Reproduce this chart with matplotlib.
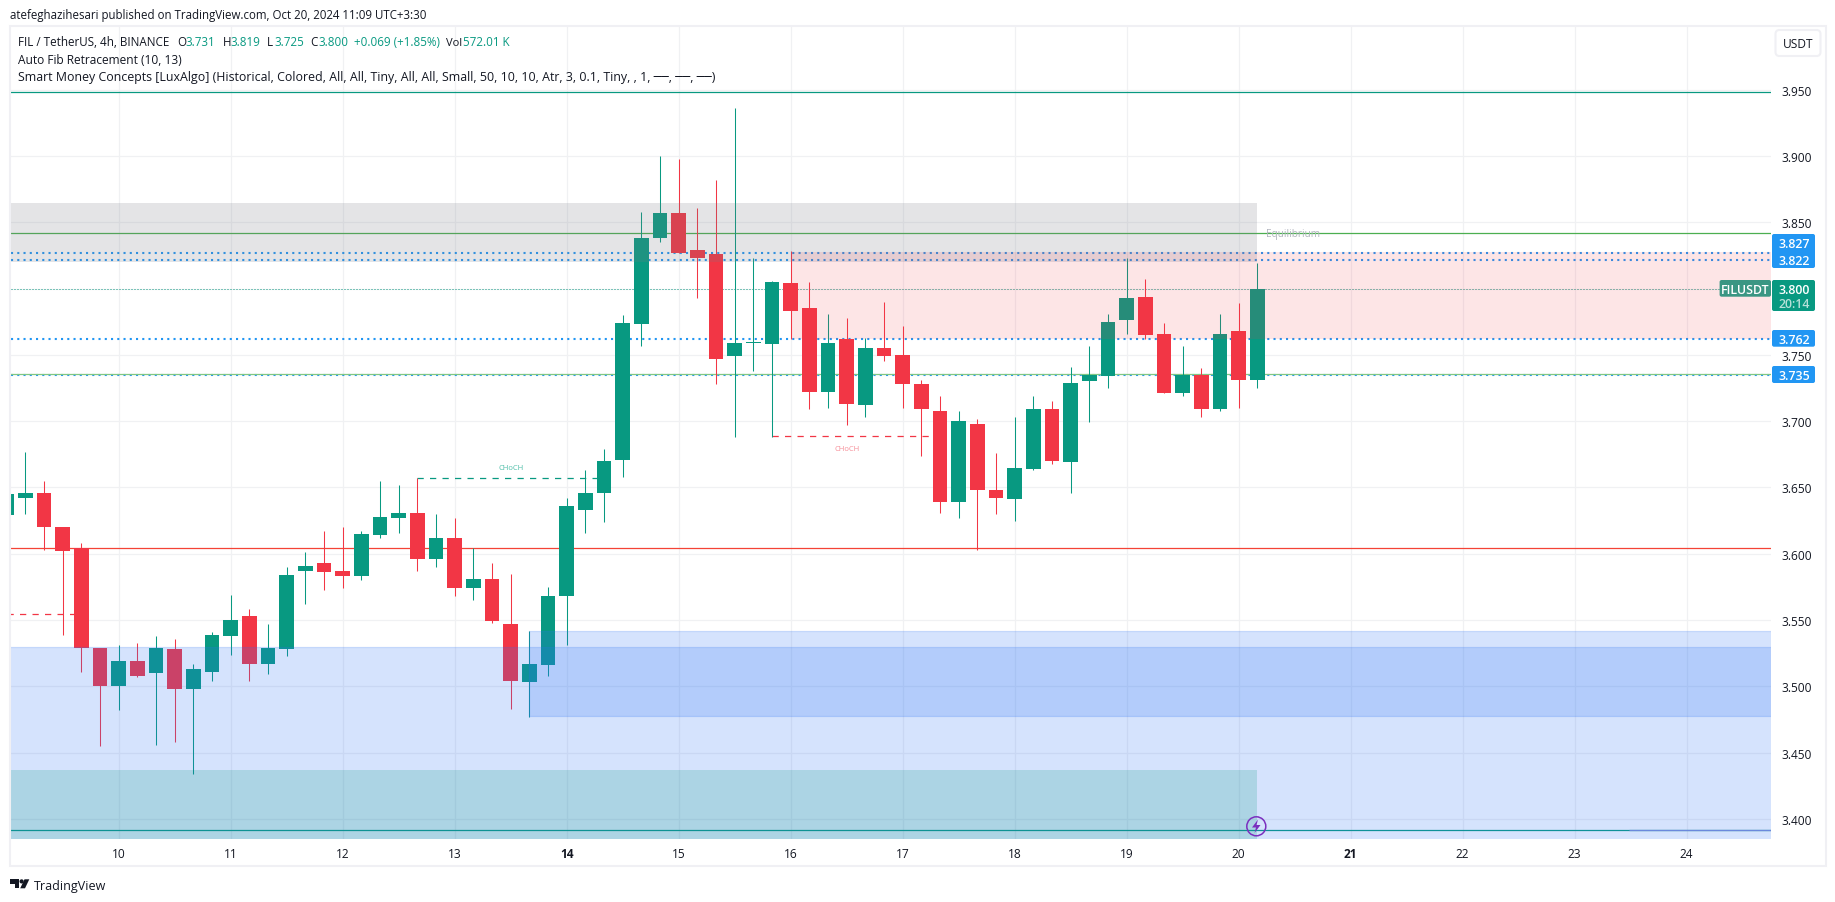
import matplotlib

matplotlib.use("Agg")
import matplotlib.pyplot as plt
import numpy as np
from matplotlib.patches import Circle, FancyBboxPatch, Polygon, Rectangle

plt.rcParams["font.family"] = ["Open Sans", "DejaVu Sans"]

GREEN = "#089981"
RED = "#F23645"
BLUE = "#2D73F5"
TAG_BLUE = "#2196F3"
INK = "#131722"
GRID = "#F0F1F3"
FRAME = "#F0F0F4"

# 4h bars, first one is cut off by the left edge of the pane
first_bar = -6
opens = [
    3.629, 3.642, 3.646, 3.620, 3.604, 3.529, 3.500, 3.519, 3.510, 3.528,
    3.498, 3.511, 3.538, 3.553, 3.517, 3.528, 3.587, 3.593, 3.587, 3.583,
    3.614, 3.627, 3.631, 3.596, 3.612, 3.574, 3.581, 3.547, 3.503, 3.516,
    3.568, 3.633, 3.646, 3.671, 3.773, 3.838, 3.857, 3.829, 3.826, 3.749,
    3.759, 3.758, 3.804, 3.785, 3.722, 3.762, 3.712, 3.755, 3.750, 3.728,
    3.708, 3.639, 3.698, 3.648, 3.641, 3.664, 3.709, 3.669, 3.730, 3.734,
    3.776, 3.794, 3.766, 3.721, 3.735, 3.709, 3.768, 3.731,
]
highs = [
    3.645, 3.677, 3.655, 3.620, 3.608, 3.529, 3.531, 3.533, 3.538, 3.536,
    3.517, 3.541, 3.569, 3.558, 3.547, 3.590, 3.601, 3.617, 3.620, 3.617,
    3.655, 3.652, 3.657, 3.630, 3.627, 3.604, 3.593, 3.585, 3.542, 3.575,
    3.642, 3.663, 3.679, 3.780, 3.858, 3.900, 3.898, 3.861, 3.882, 3.936,
    3.823, 3.806, 3.828, 3.805, 3.781, 3.778, 3.763, 3.790, 3.772, 3.731,
    3.719, 3.708, 3.702, 3.676, 3.703, 3.719, 3.715, 3.741, 3.757, 3.781,
    3.823, 3.807, 3.774, 3.757, 3.740, 3.781, 3.789, 3.819,
]
lows = [
    3.629, 3.630, 3.603, 3.539, 3.511, 3.455, 3.482, 3.507, 3.456, 3.458,
    3.434, 3.504, 3.524, 3.504, 3.509, 3.523, 3.562, 3.573, 3.574, 3.580,
    3.612, 3.616, 3.587, 3.590, 3.568, 3.565, 3.548, 3.483, 3.477, 3.508,
    3.531, 3.616, 3.624, 3.658, 3.757, 3.835, 3.827, 3.793, 3.728, 3.688,
    3.738, 3.688, 3.762, 3.709, 3.710, 3.697, 3.703, 3.745, 3.710, 3.674,
    3.631, 3.627, 3.603, 3.630, 3.625, 3.663, 3.668, 3.646, 3.699, 3.725,
    3.766, 3.762, 3.721, 3.719, 3.703, 3.708, 3.710, 3.725,
]
closes = [
    3.645, 3.646, 3.620, 3.602, 3.529, 3.500, 3.519, 3.508, 3.529, 3.498,
    3.513, 3.539, 3.550, 3.517, 3.529, 3.584, 3.591, 3.586, 3.583, 3.615,
    3.628, 3.631, 3.596, 3.612, 3.574, 3.581, 3.549, 3.504, 3.517, 3.568,
    3.636, 3.646, 3.670, 3.774, 3.838, 3.857, 3.827, 3.823, 3.747, 3.759,
    3.760, 3.805, 3.783, 3.722, 3.759, 3.713, 3.755, 3.749, 3.728, 3.709,
    3.639, 3.700, 3.648, 3.642, 3.665, 3.709, 3.670, 3.729, 3.735, 3.775,
    3.793, 3.765, 3.721, 3.735, 3.709, 3.766, 3.731, 3.800,
]

day_labels = ["10", "11", "12", "13", "14", "15", "16", "17", "18", "19", "20", "21", "22", "23", "24"]
bold_days = ["14", "21"]
bars_per_day = 6
price_ticks = [3.40, 3.45, 3.50, 3.55, 3.60, 3.65, 3.70, 3.75, 3.80, 3.85, 3.90, 3.95]

# levels from the indicators
top_line = 3.9484
equilibrium = 3.8419
low_line = 3.6043
bottom_line = 3.3916
fib_lines = [3.7357]
alert_lines = [3.8271, 3.8218, 3.7622, 3.7345]
last_price = 3.800

# zones: (bottom, top)
premium_zone = (3.8198, 3.8648)
supply_zone = (3.7622, 3.8278)
demand_wide = (3.37, 3.5297)
demand_block = (3.4774, 3.5420)
discount_zone = (3.37, 3.4371)
zone_end_bar = 61
demand_block_bar = 22
supply_bar = 36

# (start bar, end bar, level)
choch_up = (16, 26, 3.6571)
choch_down = (35, 44, 3.6888)
choch_old = (-6, -2, 3.5548)

bar_x = first_bar + np.arange(len(opens))
day_x = np.arange(len(day_labels)) * bars_per_day

fig = plt.figure(figsize=(18.35, 9.03), dpi=100, facecolor="white")


def px_rect(left, top, right, bottom):
    return [left / 1835, 1 - bottom / 903, (right - left) / 1835, (bottom - top) / 903]


ax = fig.add_axes(px_rect(10.5, 27.5, 1771, 839.7))
ax.set_xlim(-5.796, 88.517)
ax.set_ylim(3.38512, 3.99763)
for side in ax.spines.values():
    side.set_visible(False)

ax.set_xticks(day_x)
ax.set_xticklabels(day_labels, fontsize=8.6, color=INK)
for label in ax.get_xticklabels():
    if label.get_text() in bold_days:
        label.set_fontweight("bold")
ax.set_yticks(price_ticks)
ax.set_yticklabels(["%.3f" % p for p in price_ticks], fontsize=8.6, color=INK)
ax.yaxis.tick_right()
ax.tick_params(axis="both", length=0)
ax.tick_params(axis="y", pad=7.5)
ax.tick_params(axis="x", pad=6)
ax.grid(True, color=GRID, linewidth=0.9, zorder=1)
ax.set_axisbelow(True)

# indicator lines sit under the candles
right_edge = ax.get_xlim()[1]
left_edge = ax.get_xlim()[0]
ax.axhline(top_line, color=GREEN, linewidth=0.9, zorder=2)
ax.axhline(equilibrium, color="#4CAF50", linewidth=0.9, zorder=2)
ax.axhline(low_line, color="#F44336", linewidth=0.9, zorder=2)
ax.axhline(bottom_line, color=GREEN, linewidth=0.9, zorder=2)
ax.hlines(bottom_line, 80.9, right_edge, color="#7B8FD6", linewidth=0.9, zorder=2.1)
for level in alert_lines:
    ax.axhline(level, color=TAG_BLUE, linewidth=1.5, linestyle=(0, (1, 2)), zorder=2.2)
for level in fib_lines:
    ax.axhline(level, color="#81C784", linewidth=0.9, zorder=2.25)
ax.axhline(last_price, color=GREEN, linewidth=0.72, linestyle=(0, (1, 2)), zorder=2.2)

for start, end, level in [choch_up]:
    ax.hlines(level, start, end, color=GREEN, linewidth=0.9, linestyles=(0, (5, 5)), zorder=2.3)
for start, end, level in [choch_down, choch_old]:
    ax.hlines(level, start, end, color=RED, linewidth=0.9, linestyles=(0, (5, 5)), zorder=2.3)

# candles
opens_arr = np.array(opens)
closes_arr = np.array(closes)
colors = np.where(closes_arr >= opens_arr, GREEN, RED)
ax.vlines(bar_x, lows, highs, color=colors, linewidth=0.75, zorder=3)
ax.bar(
    bar_x,
    np.abs(closes_arr - opens_arr),
    bottom=np.minimum(opens_arr, closes_arr),
    width=0.8,
    color=colors,
    linewidth=0,
    zorder=3.1,
)

# zones go over the candles, all semi transparent
def zone(x0, x1, bottom, top, color, alpha, edge=False):
    face = matplotlib.colors.to_rgba(color, alpha)
    rect = Rectangle(
        (x0, bottom),
        x1 - x0,
        top - bottom,
        facecolor=face,
        edgecolor=face if edge else "none",
        linewidth=0.9 if edge else 0,
        zorder=4,
    )
    ax.add_patch(rect)


zone(left_edge - 1, zone_end_bar, premium_zone[0], premium_zone[1], "#787B86", 0.2)
zone(supply_bar, right_edge + 1, supply_zone[0], supply_zone[1], RED, 0.13)
zone(left_edge - 1, right_edge + 1, demand_wide[0], demand_wide[1], BLUE, 0.2, edge=True)
zone(demand_block_bar, right_edge + 1, demand_block[0], demand_block[1], BLUE, 0.2, edge=True)
zone(left_edge - 1, zone_end_bar, discount_zone[0], discount_zone[1], GREEN, 0.2)

ax.text(21, 3.6650, "CHoCH", fontsize=5.5, color="#4FBFA9", ha="center", va="center", zorder=5)
ax.text(39, 3.6797, "CHoCH", fontsize=5.5, color="#F78E98", ha="center", va="center", zorder=5)
ax.text(62.9, 3.8418, "Equilibrium", fontsize=7.2, color="#B2B5BE", ha="center", va="center", zorder=5)
ax.text(80.56, 3.3855, "Weak Low", fontsize=5.5, color="#7FC4DC", ha="center", va="top", zorder=5, clip_on=True)

# everything around the pane is drawn in pixels on a top layer
top = fig.add_axes([0, 0, 1, 1], zorder=10)
top.set_xlim(0, 1835)
top.set_ylim(903, 0)
top.axis("off")

# frame
top.add_patch(Rectangle((9.5, 26.5), 1816.5, 841, facecolor="none", edgecolor=FRAME, linewidth=1.5))

# lightning marker
top.add_patch(Circle((1256.3, 827.3), 9.5, facecolor="none", edgecolor="#7B2FBF", linewidth=1.1))
top.add_patch(
    Polygon(
        [(1258, 820.5), (1252, 828.5), (1256, 828.5), (1254.5, 834), (1260.5, 826), (1256.5, 826)],
        facecolor="#7B2FBF",
        edgecolor="none",
    )
)


def tag(y0, y1, x0=1772, x1=1815, color=TAG_BLUE):
    top.add_patch(
        FancyBboxPatch(
            (x0 + 1, y0 + 1),
            x1 - x0 - 2,
            y1 - y0 - 2,
            boxstyle="round,pad=1,rounding_size=2",
            facecolor=color,
            edgecolor="none",
        )
    )


def tag_text(x, y, text, color="white"):
    top.text(x, y, text, color=color, fontsize=8.9, fontweight="semibold", ha="center", va="center")


tag(235, 269)
tag_text(1794.5, 245, "3.827")
tag_text(1794.5, 262, "3.822")
tag(331, 347.7)
tag_text(1794.5, 340.6, "3.762")
tag(367, 384)
tag_text(1794.5, 376.6, "3.735")
tag(281, 312, color=GREEN)
tag_text(1794.5, 290.6, "3.800")
tag_text(1794.5, 305, "20:14", color="#B5E0D8")
tag(281, 297.7, x0=1719.6, x1=1771, color="#3A9683")
tag_text(1745.3, 290.6, "FILUSDT")

# currency button
top.add_patch(
    FancyBboxPatch(
        (1777, 32.5),
        42,
        23,
        boxstyle="round,pad=1.5,rounding_size=4",
        facecolor="white",
        edgecolor=FRAME,
        linewidth=1.5,
    )
)
top.text(1798, 45, "USDT", color=INK, fontsize=8.6, ha="center", va="center")

# header and legend
top.text(10, 15.7, "atefeghazihesari published on TradingView.com, Oct 20, 2024 11:09 UTC+3:30",
         fontsize=8.3, color=INK, va="center")
legend_y = 43
legend_parts = [
    (18, "FIL / TetherUS, 4h, BINANCE", INK, 8.4),
    (177.5, "O", INK, 8.4),
    (185.7, "3.731", GREEN, 8.4),
    (222.4, "H", INK, 8.4),
    (230.6, "3.819", GREEN, 8.4),
    (267.3, "L", INK, 8.4),
    (274, "3.725", GREEN, 8.4),
    (310, "C", INK, 8.4),
    (318.4, "3.800", GREEN, 8.4),
    (354, "+0.069 (+1.85%)", GREEN, 8.4),
    (446.4, "Vol", INK, 8.0),
    (463, "572.01 K", GREEN, 8.4),
]
for x, text, color, size in legend_parts:
    top.text(x, legend_y, text, fontsize=size, color=color, va="center")
top.text(18, 60.2, "Auto Fib Retracement (10, 13)", fontsize=8.6, color=INK, va="center")
top.text(18, 77.2,
         "Smart Money Concepts [LuxAlgo] (Historical, Colored, All, All, Tiny, All, All, Small, "
         "50, 10, 10, Atr, 3, 0.1, Tiny, , 1, \u2500\u2500, \u2500\u2500, \u2500\u2500)",
         fontsize=8.96, color=INK, va="center")

# footer logo
top.add_patch(Polygon([(10, 880.3), (19, 880.3), (19, 889.3), (14.5, 889.3), (14.5, 884.6), (10, 884.6)], facecolor=INK, edgecolor="none"))
top.add_patch(Circle((21.6, 882.4), 2.1, facecolor=INK, edgecolor="none"))
top.add_patch(Polygon([(24.5, 880.3), (29.3, 880.3), (25, 889.3), (20.2, 889.3)], facecolor=INK, edgecolor="none"))
top.text(33.5, 887, "TradingView", fontsize=9, color=INK, va="center")

fig.savefig("out.png", dpi=100)
